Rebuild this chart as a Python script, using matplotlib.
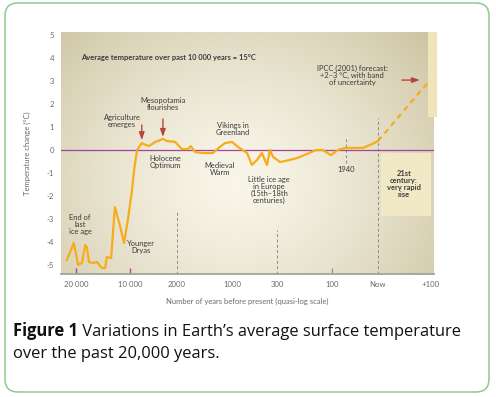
import matplotlib.pyplot as plt
import numpy as np
from matplotlib.patches import FancyBboxPatch, Rectangle

# years relative to present (negative = before present), temperature change in degC
years = [-21700, -20400, -19600, -18900, -18300, -18000, -17600, -16900, -16100,
         -15200, -14600, -14300, -13500, -12800, -11900, -11100, -10400, -9700,
         -9300, -8800, -8000, -7300, -6800, -5700, -4400, -3700, -2300, -1910,
         -1800, -1750, -1670, -1530, -1350, -1220, -1130, -1000, -905, -765,
         -690, -610, -535, -455, -410, -360, -289, -271, -227, -216, -158, -133,
         -104, -87, -72, -33, -17, 0]
temps = [-4.78, -4.04, -5.0, -4.91, -4.13, -4.22, -4.87, -4.91, -4.87,
         -5.13, -5.13, -4.65, -4.70, -2.48, -3.26, -4.04, -3.04, -1.83,
         -0.87, 0.0, 0.30, 0.22, 0.17, 0.35, 0.48, 0.39, 0.35, 0.04,
         0.04, 0.17, -0.09, -0.13, -0.13, 0.13, 0.30, 0.35, 0.13, -0.13,
         -0.65, -0.43, -0.13, -0.65, 0.0, -0.30, -0.52, -0.48, -0.35, -0.30, 0.0, 0.0,
         -0.22, 0.0, 0.09, 0.09, 0.22, 0.39]
forecast_years = [0, 98]
forecast_temps = [0.39, 3.04]

tick_years = [-20000, -10000, -2000, -1000, -300, -100, 0, 100]
tick_labels = ["20 000", "10 000", "2000", "1000", "300", "100", "Now", "+100"]
y_ticks = [5, 4, 3, 2, 1, 0, -1, -2, -3, -4, -5]

# quasi-log axis: anchor years and where they sit along the axis
anchor_years = [-30000, -20000, -10000, -2000, -1000, -300, -100, 0, 100, 200]
anchor_pos = [22, 76, 130, 177, 232, 277, 332, 378, 431, 484]


def fwd(x):
    return np.interp(x, anchor_years, anchor_pos)


def inv(p):
    return np.interp(p, anchor_pos, anchor_years)


TXT = "#3a3a3a"
GREY = "#6a6a6a"
FONT = "Lato"

fig = plt.figure(figsize=(4.96, 3.97), dpi=100)

# page frame + caption
frame = fig.add_axes([0, 0, 1, 1])
frame.set_xlim(0, 496)
frame.set_ylim(397, 0)
frame.axis("off")
frame.add_patch(FancyBboxPatch((5, 3), 484, 389, boxstyle="round,pad=0,rounding_size=13",
                               fc="white", ec="#8fc98f", lw=1.1))
t1 = frame.text(13, 336, "Figure 1", fontsize=11.9, fontweight="bold", family="Open Sans",
                color="#111111", va="baseline")
frame.annotate(" Variations in Earth\u2019s average surface temperature", xy=(1, 0),
               xycoords=t1, fontsize=11.9, family="Open Sans", color="#111111", va="bottom")
frame.text(13, 358, "over the past 20,000 years.", fontsize=11.9, family="Open Sans",
           color="#111111", va="baseline")

pos = [61 / 496, 1 - 274 / 397, (434 - 61) / 496, (274 - 32) / 397]

# background gradient
bg = fig.add_axes(pos)
gx, gy = np.meshgrid(np.linspace(0, 1, 300), np.linspace(0, 1, 240))
r = np.sqrt(((gx - 0.47) / 0.7) ** 2 + ((gy - 0.38) / 0.95) ** 2)
r = np.clip(r, 0, 1) ** 1.4
c0 = np.array([0.975, 0.965, 0.915])
c1 = np.array([0.80, 0.765, 0.63])
grad = c0 + (c1 - c0) * r[..., None]
bg.imshow(grad, extent=(0, 1, 0, 1), aspect="auto", origin="lower")
bg.axis("off")

ax = fig.add_axes(pos)
ax.patch.set_alpha(0)
ax.set_xscale("function", functions=(fwd, inv))
ax.set_xlim(-22780, 105.7)
ax.set_ylim(-5.39, 5.13)

# 21st century box and uncertainty band
ax.add_patch(Rectangle((6, -2.87), 94, 2.74, fc="#f1e9c6", ec="none", zorder=1))
ax.add_patch(Rectangle((94, 1.43), 17, 3.7, fc="#efe5b9", ec="none", zorder=1, clip_on=False))

# dashed guide lines
dash = dict(color="#8a8a8a", lw=0.7, ls=(0, (3, 2.5)), zorder=2)
ax.vlines(-2000, -5.39, -2.7, **dash)
ax.vlines(-300, -5.39, -3.48, **dash)
ax.vlines(-70, -0.57, 0.52, **dash)
ax.vlines(0, -5.39, 1.39, **dash)

# small tick marks
ax.vlines([-20000, -10000], -5.39, -5.15, color="#a3449c", lw=1.0, zorder=2)
ax.vlines(-100, -5.39, -5.11, color="#888888", lw=0.8, zorder=2)

ax.axhline(0, color="#a3449c", lw=0.9, zorder=3)
ax.plot(years, temps, color="#f7ac1c", lw=1.6, zorder=4, solid_joinstyle="round")
ax.plot(forecast_years, forecast_temps, color="#f7ac1c", lw=1.6, ls=(0, (2.5, 2)), zorder=4)

# axes styling
for s in ["top", "right", "left"]:
    ax.spines[s].set_visible(False)
ax.spines["bottom"].set_color("#9ea795")
ax.spines["bottom"].set_linewidth(1.3)
ax.set_xticks(tick_years)
ax.set_xticklabels(tick_labels)
ax.set_yticks(y_ticks)
ax.set_yticklabels([str(v) for v in y_ticks])
ax.tick_params(length=0, labelsize=5.6, colors=GREY, pad=5)
for lab in ax.get_xticklabels() + ax.get_yticklabels():
    lab.set_family(FONT)
ax.set_xlabel("Number of years before present (quasi-log scale)", fontsize=5.5,
              color=GREY, family=FONT, labelpad=7)
ax.set_ylabel("Temperature change (\u00b0C)", fontsize=5.5, color=GREY, family=FONT,
              labelpad=11)

# annotations
kw = dict(fontsize=5.4, color=TXT, family=FONT, ha="center", va="center",
          linespacing=1.0, zorder=5)
ax.text(-19070, 4.0, "Average temperature over past 10 000 years = 15\u00b0C",
        **{**kw, "ha": "left", "fontweight": "bold"})
ax.text(-11480, 1.26, "Agriculture\nemerges", **kw)
ax.text(-4400, 2.0, "Mesopotamia\nflourishes", **kw)
ax.text(-984, 0.91, "Vikings in\nGreenland", **kw)
ax.text(-4000, -0.52, "Holocene\nOptimum", **kw)
ax.text(-1220, -0.83, "Medieval\nWarm", **kw)
ax.text(-424, -1.74, "Little ice age\nin Europe\n(15th\u201318th\ncenturies)", **kw)
ax.text(-70, -0.83, "1940", **kw)
ax.text(49, -1.47, "21st\ncentury:\nvery rapid\nrise", **{**kw, "fontweight": "bold"})
ax.text(-19260, -3.22, "End of\nlast\nice age", **kw)
ax.text(-8130, -4.22, "Younger\nDryas", **kw)
ax.text(-56, 3.26, "IPCC (2001) forecast:\n+2\u20133 \u00b0C, with band\nof uncertainty", **kw)

arrow = dict(arrowstyle="-|>,head_length=0.45,head_width=0.16", color="#b5473a", lw=1.0,
             shrinkA=0, shrinkB=0)
ax.annotate("", xy=(-8000, 0.43), xytext=(-8000, 1.09), arrowprops=arrow, zorder=5)
ax.annotate("", xy=(-4400, 0.57), xytext=(-4400, 1.35), arrowprops=arrow, zorder=5)
ax.annotate("", xy=(79, 3.04), xytext=(45, 3.04), arrowprops=arrow, zorder=5)

fig.savefig("out.png", dpi=100)
